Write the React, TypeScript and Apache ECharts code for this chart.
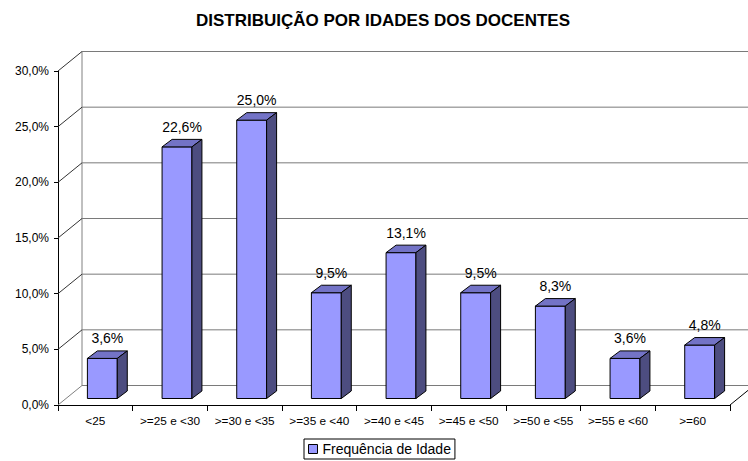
import React, { useEffect, useRef } from "react";
import * as echarts from "echarts";

const title = "DISTRIBUIÇÃO POR IDADES DOS DOCENTES";
const seriesName = "Frequência de Idade";
const categories = [
  "<25",
  ">=25 e <30",
  ">=30 e <35",
  ">=35 e <40",
  ">=40 e <45",
  ">=45 e <50",
  ">=50 e <55",
  ">=55 e <60",
  ">=60",
];
const values = [3.6, 22.6, 25.0, 9.5, 13.1, 9.5, 8.3, 3.6, 4.8];
const yTicks = [0, 5, 10, 15, 20, 25, 30];

const FONT = "'Liberation Sans', Arial, sans-serif";
const FRONT = "#9999FF";
const TOP = "#7373C6";
const SIDE = "#4D4D80";
// wall depth
const DX = 24;
const DY = -19.5;
// bar front plane offset
const BX = 7;
const BY = -6.5;
// bar depth
const DDX = 10;
const DDY = -7.5;

const fmt = (v: number) => v.toFixed(1).replace(".", ",") + "%";

export default function App() {
  const ref = useRef<HTMLDivElement>(null);
  useEffect(() => {
    if (!ref.current) return;
    const chart = echarts.init(ref.current, undefined, { renderer: "svg" });
    const option: any = {
      animation: false,
      backgroundColor: "#fff",
      textStyle: { fontFamily: FONT },
      graphic: [
        {
          type: "text",
          x: 383,
          y: 20,
          style: {
            text: title,
            font: `bold 17px ${FONT}`,
            fill: "#000",
            align: "center",
            verticalAlign: "middle",
          },
        },
      ],
      legend: {
        data: [seriesName],
        left: 304,
        top: 439,
        padding: [3, 4, 3, 4],
        itemWidth: 9,
        itemHeight: 9,
        itemGap: 5,
        icon: "rect",
        borderColor: "#000",
        borderWidth: 1,
        borderRadius: 0,
        itemStyle: { borderColor: "#000", borderWidth: 1 },
        textStyle: { fontSize: 14, color: "#000", fontFamily: FONT, padding: [0, 0, 0, 0] },
      },
      grid: { left: 58, right: 18, top: 71, bottom: 56, containLabel: false },
      xAxis: {
        type: "category",
        data: categories,
        boundaryGap: true,
        axisLine: { show: true, lineStyle: { color: "#000", width: 1 } },
        axisTick: { show: true, length: 6, lineStyle: { color: "#000" } },
        axisLabel: { interval: 0, fontSize: 11.8, color: "#000", margin: 10, fontFamily: FONT },
        splitLine: { show: false },
      },
      yAxis: {
        type: "value",
        min: 0,
        max: 30,
        interval: 5,
        axisLine: { show: true, lineStyle: { color: "#000", width: 1 } },
        axisTick: { show: true, length: 4, lineStyle: { color: "#000" } },
        axisLabel: {
          formatter: (v: number) => fmt(v),
          fontSize: 12,
          color: "#000",
          margin: 9,
          fontFamily: FONT,
        },
        splitLine: { show: false },
      },
      series: [
        {
          type: "custom",
          name: "walls",
          silent: true,
          clip: false,
          z: 1,
          data: yTicks.map((v) => [0, v]),
          encode: { x: 0, y: 1 },
          renderItem: (params: any, api: any) => {
            const cs = params.coordSys;
            const v = api.value(1);
            const y = api.coord([0, v])[1];
            const x0 = cs.x;
            const x1 = cs.x + cs.width;
            const children: any[] = [
              {
                type: "line",
                shape: { x1: x0, y1: y, x2: x0 + DX, y2: y + DY },
                style: { stroke: v === 0 ? "#808080" : "#333", lineWidth: 1 },
              },
              {
                type: "line",
                shape: { x1: x0 + DX, y1: y + DY, x2: x1 + DX, y2: y + DY },
                style: { stroke: "#7a7a7a", lineWidth: 1 },
              },
            ];
            if (v === 0) {
              children.push({
                type: "line",
                shape: { x1: x0 + DX, y1: cs.y + DY, x2: x0 + DX, y2: y + DY },
                style: { stroke: "#808080", lineWidth: 1 },
              });
              children.push({
                type: "line",
                shape: { x1: x1, y1: y, x2: x1 + DX, y2: y + DY },
                style: { stroke: "#000", lineWidth: 1 },
              });
            }
            return { type: "group", children };
          },
        },
        {
          type: "custom",
          name: seriesName,
          clip: false,
          z: 3,
          itemStyle: { color: FRONT },
          data: values.map((v, i) => [i, v]),
          encode: { x: 0, y: 1 },
          renderItem: (params: any, api: any) => {
            const idx = api.value(0);
            const v = api.value(1);
            const base = api.coord([idx, 0]);
            const top = api.coord([idx, v]);
            const band = api.size([1, 0])[0];
            const w = band * 0.4;
            const cx = base[0] + BX;
            const xa = cx - w / 2;
            const xb = cx + w / 2;
            const yb = base[1] + BY;
            const yt = top[1] + BY;
            return {
              type: "group",
              children: [
                {
                  type: "rect",
                  shape: { x: xa, y: yt, width: w, height: yb - yt },
                  style: { fill: FRONT, stroke: "#000", lineWidth: 1 },
                },
                {
                  type: "polygon",
                  shape: {
                    points: [
                      [xa, yt],
                      [xa + DDX, yt + DDY],
                      [xb + DDX, yt + DDY],
                      [xb, yt],
                    ],
                  },
                  style: { fill: TOP, stroke: "#000", lineWidth: 1 },
                },
                {
                  type: "polygon",
                  shape: {
                    points: [
                      [xb, yt],
                      [xb + DDX, yt + DDY],
                      [xb + DDX, yb + DDY],
                      [xb, yb],
                    ],
                  },
                  style: { fill: SIDE, stroke: "#000", lineWidth: 1 },
                },
                {
                  type: "text",
                  x: cx + DDX / 2,
                  y: yt + DDY - 12.5,
                  style: {
                    text: fmt(v),
                    font: `14px ${FONT}`,
                    fill: "#000",
                    align: "center",
                    verticalAlign: "middle",
                  },
                },
              ],
            };
          },
        },
      ],
    };
    chart.setOption(option);
    return () => chart.dispose();
  }, []);
  return (
    <div
      ref={ref}
      style={{ position: "fixed", left: 0, top: 0, width: 748, height: 461, background: "#fff" }}
    />
  );
}
